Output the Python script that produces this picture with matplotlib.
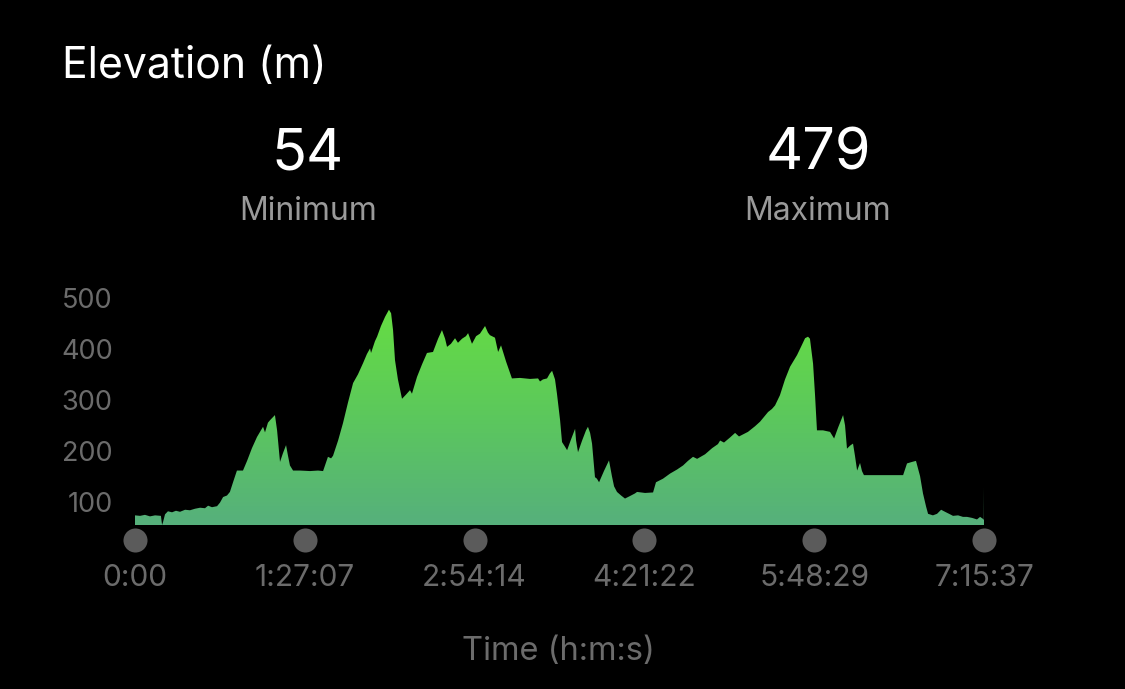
import matplotlib
matplotlib.use("Agg")
import matplotlib.pyplot as plt
import matplotlib.transforms as mtransforms
from matplotlib.colors import LinearSegmentedColormap
import numpy as np

plt.rcParams['font.family'] = ['Inter', 'DejaVu Sans']

# elapsed time (minutes) and elevation (m)
time_min = [0, 2.6, 5.1, 7.7, 10.3, 13.3, 13.9, 14.4, 15.4, 16.9, 19.0, 21.0, 23.1, 25.7, 28.2,
            30.8, 33.4, 35.9, 37.5, 39.5, 42.1, 43.6, 45.2, 47.2, 48.7, 50.3, 52.3, 55.4, 57.5,
            60.0, 62.6, 64.6, 65.7, 66.7, 68.2, 69.3, 70.8, 71.8, 72.9, 74.4, 75.9, 77.5, 78.5,
            79.5, 81.1, 84.7, 89.8, 93.9, 96.5, 99.0, 100.6, 101.6, 104.2, 106.7, 109.3, 111.9,
            114.4, 117.0, 119.0, 120.6, 121.1, 123.1, 124.2, 126.2, 128.3, 130.3, 131.4, 132.4,
            133.4, 134.9, 137.0, 139.0, 141.1, 142.1, 144.7, 147.3, 149.8, 152.9, 155.5, 157.5,
            159.1, 160.1, 162.1, 164.2, 165.7, 167.8, 169.8, 170.9, 172.9, 175.0, 177.0, 179.6,
            181.1, 182.1, 184.7, 186.3, 187.8, 190.4, 193.4, 197.5, 202.7, 206.8, 207.8, 209.3,
            211.4, 212.9, 214.0, 215.5, 216.5, 218.1, 219.1, 220.6, 221.7, 223.7, 225.8, 226.3,
            227.3, 229.4, 231.4, 232.4, 233.5, 234.5, 236.0, 237.0, 238.1, 240.6, 243.2, 244.7,
            245.8, 247.3, 249.4, 251.4, 254.0, 256.5, 257.6, 261.7, 265.8, 267.3, 270.9, 274.5,
            278.1, 281.2, 283.7, 286.3, 288.4, 292.5, 296.1, 299.1, 300.2, 302.2, 305.3, 307.9,
            309.9, 314.5, 318.1, 320.7, 324.8, 326.8, 328.4, 330.9, 333.5, 336.1, 339.7, 342.2,
            343.8, 345.3, 346.3, 347.9, 348.9, 349.9, 353.0, 356.6, 358.7, 360.7, 363.3, 364.3,
            365.3, 366.9, 368.4, 369.4, 370.5, 372.0, 373.0, 374.0, 382.3, 389.9, 394.1, 396.1,
            398.7, 400.7, 402.8, 404.3, 405.9, 406.9, 409.4, 411.5, 413.6, 415.6, 418.2, 419.7,
            422.3, 424.8, 426.9, 429.5, 432.0, 433.6, 435.1, 435.5, 435.6]
elevation = [73, 72, 74, 71, 73, 72, 54, 60, 75, 81, 79, 82, 80, 84, 83,
             86, 88, 87, 92, 89, 91, 98, 109, 112, 119, 138, 161, 161, 180,
             205, 227, 240, 247, 236, 255, 260, 266, 270, 240, 178, 195, 211, 190,
             171, 161, 161, 160, 161, 160, 188, 185, 190, 220, 254, 295, 333,
             350, 372, 390, 401, 392, 415, 424, 445, 463, 477, 470, 437,
             378, 340, 302, 310, 319, 312, 345, 370, 392, 394, 420, 437,
             420, 404, 410, 421, 412, 420, 425, 431, 410, 425, 430, 445,
             432, 427, 422, 394, 407, 375, 342, 343, 341, 342, 336, 340,
             342, 352, 357, 340, 312, 260, 217, 208, 201, 222, 243, 220,
             197, 220, 240, 247, 235, 214, 148, 145, 138, 160, 181, 150,
             130, 119, 112, 106, 111, 116, 119, 117, 118, 138, 145, 155,
             163, 171, 180, 188, 184, 193, 205, 213, 220, 216, 226, 235,
             228, 237, 248, 257, 276, 282, 289, 309, 340, 365, 388, 408,
             421, 424, 420, 371, 310, 240, 240, 237, 224, 245, 270, 250,
             204, 210, 214, 190, 161, 176, 160, 152, 152, 152, 152, 175,
             178, 180, 150, 116, 90, 76, 73, 76, 84, 80, 75, 72,
             73, 70, 70, 68, 65, 70, 66, 64, 129]

total_min = 435.62
tick_times = [0, 87.12, 174.25, 261.37, 348.49, 435.62]
tick_labels = ['0:00', '1:27:07', '2:54:14', '4:21:22', '5:48:29', '7:15:37']
y_ticks = [100, 200, 300, 400, 500]
min_elev = 54
max_elev = 479

fig = plt.figure(figsize=(11.25, 6.89), dpi=100, facecolor='black')
ax = fig.add_axes([0.12, 0.238, 0.7547, 0.3295])
ax.set_facecolor('black')
ax.set_xlim(0, total_min)
ax.set_ylim(54, 500)

# gradient fill, clipped to the elevation area
t = np.array(time_min)
e = np.array(elevation)
poly = ax.fill_between(t, 54, e, color='none', lw=0)
cmap = LinearSegmentedColormap.from_list('elev', ['#56b07c', '#5cc85c', '#66de42'])
grad = np.linspace(0, 1, 256).reshape(-1, 1)
img = ax.imshow(grad, cmap=cmap, aspect='auto', origin='lower',
                extent=[0, total_min, 54, 485], zorder=2)
path = poly.get_paths()[0]
img.set_clip_path(path, transform=ax.transData)

for s in ax.spines.values():
    s.set_visible(False)
ax.set_xticks([])
ax.set_yticks(y_ticks)
ax.set_yticklabels([str(v) for v in y_ticks])
ax.tick_params(axis='y', length=0, pad=16, labelsize=19.5, labelcolor='#6b6b6b')

# timeline dots and labels under the plot
trans = mtransforms.blended_transform_factory(ax.transData, ax.transAxes)
ax.scatter(tick_times, [-0.066] * len(tick_times), s=300, color='#5b5b5b',
           transform=trans, clip_on=False, zorder=3, lw=0)
for tt, lab in zip(tick_times, tick_labels):
    ax.text(tt, -0.233, lab, transform=trans, ha='center', va='center',
            fontsize=21.5, color='#6b6b6b')

fig.text(0.496, 0.055, 'Time (h:m:s)', ha='center', va='center', fontsize=23.5, color='#6b6b6b')

fig.text(62 / 1125, 0.887, 'Elevation (m)', ha='left', va='baseline', fontsize=30.8, color='white')
fig.text(308 / 1125, 0.7533, str(min_elev), ha='center', va='baseline', fontsize=41.5, color='white')
fig.text(308 / 1125, 0.6807, 'Minimum', ha='center', va='baseline', fontsize=23, color='#9a9a9a')
fig.text(818 / 1125, 0.7533, str(max_elev), ha='center', va='baseline', fontsize=41.5, color='white')
fig.text(818 / 1125, 0.6807, 'Maximum', ha='center', va='baseline', fontsize=23, color='#9a9a9a')

fig.savefig('out.png', dpi=100, facecolor='black')
